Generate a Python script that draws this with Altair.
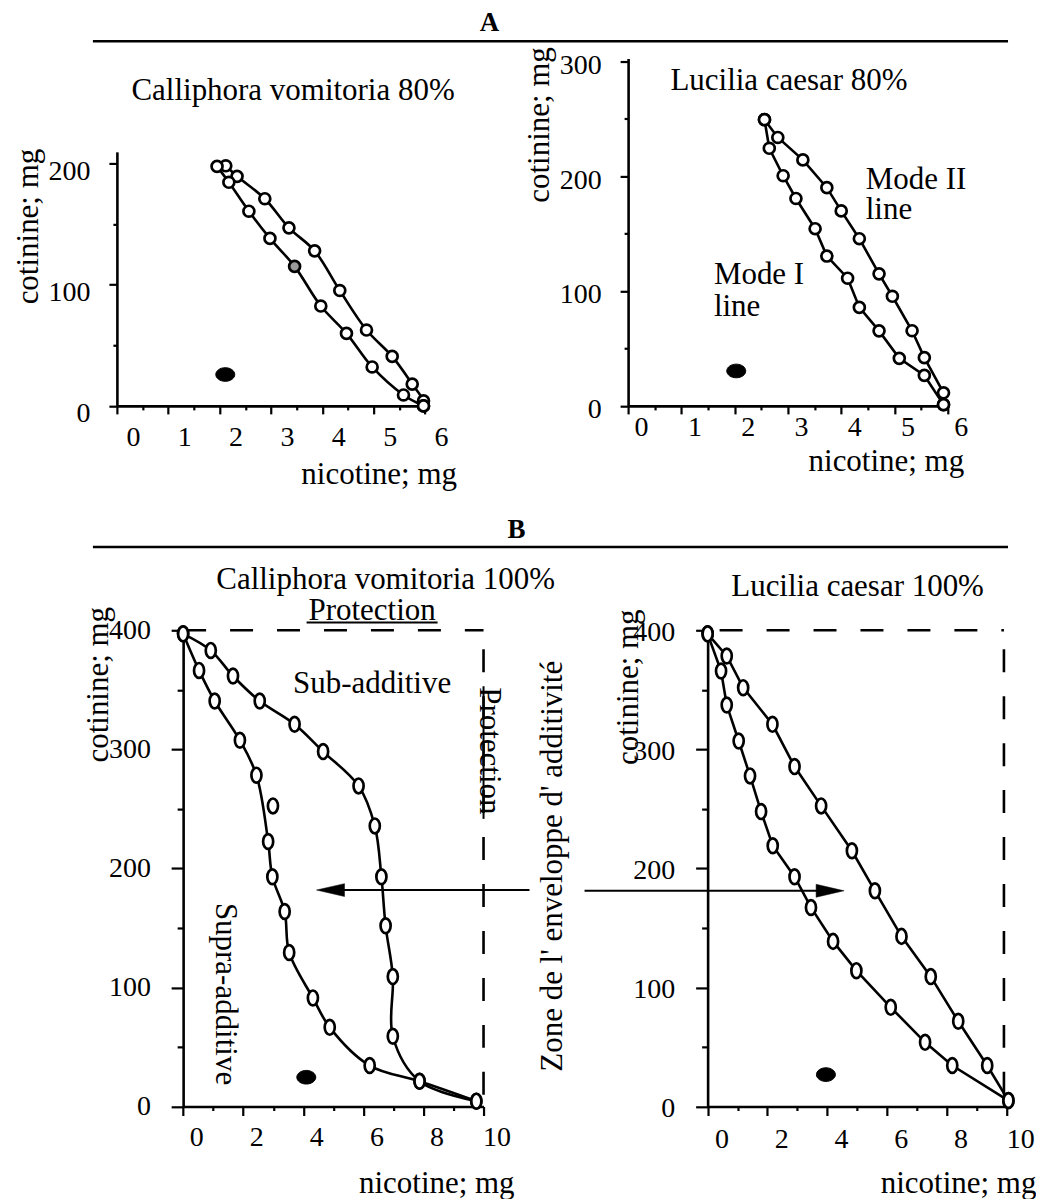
import altair as alt
import pandas as pd

FONT = "Liberation Serif"
TXT = 31      # annotation / title size
LAB = 28      # tick label size
HEAD = 27     # section letters
LW = 2.6

# ================= DATA =================
# ---- A, left: Calliphora vomitoria 80% ----
al_outer_x = [2.12, 2.34, 2.88, 3.35, 3.85, 4.34, 4.86, 5.36, 5.75, 5.97, 5.97]
al_outer_y = [198.1, 189.4, 170.9, 146.9, 127.9, 95.2, 62.6, 40.8, 18.0, 4.1, 0.0]
al_inner_x = [1.95, 2.18, 2.57, 2.98, 3.46, 3.97, 4.47, 4.97, 5.58, 5.97]
al_inner_y = [197.6, 184.5, 160.6, 138.2, 115.1, 82.4, 59.8, 32.1, 9.0, 0.0]
al_grey_idx = 4
al_dot_x, al_dot_y = [2.11], [25.9]
al_text = ["Calliphora vomitoria 80%"]
al_text_x, al_text_y = [3.43], [252.7]

# ---- A, right: Lucilia caesar 80% ----
ar_mode1_x = [2.56, 2.65, 2.91, 3.15, 3.51, 3.73, 4.12, 4.34, 4.71, 5.09, 5.56, 5.92]
ar_mode1_y = [249.1, 224.2, 200.3, 180.5, 154.2, 130.4, 111.1, 85.7, 65.3, 41.4, 26.5, 1.1]
ar_mode2_x = [2.56, 2.81, 3.28, 3.73, 4.00, 4.34, 4.71, 4.96, 5.33, 5.56, 5.92, 5.92]
ar_mode2_y = [249.1, 233.6, 214.1, 189.9, 169.7, 145.5, 114.9, 95.4, 65.4, 42.0, 11.4, 1.1]
ar_dot_x, ar_dot_y = [2.03], [30.4]
ar_title = ["Lucilia caesar 80%"]
ar_title_x, ar_title_y = [3.02], [274.5]
ar_notes = ["Mode II", "line", "Mode I", "line"]
ar_notes_x = [4.46, 4.46, 1.61, 1.61]
ar_notes_y = [188.4, 162.3, 105.8, 78.3]

# ---- B, left: Calliphora vomitoria 100% ----
bl_sub_x = [0.0, 0.92, 1.66, 2.55, 3.71, 4.66, 5.84, 6.38, 6.60, 6.74, 6.98, 6.98, 7.87, 9.76]
bl_sub_y = [397, 383.1, 361.6, 340.6, 321.1, 298.1, 269.3, 235.7, 193.0, 151.8, 109.1, 59.0, 21.2, 4.5]
bl_sup_x = [0.0, 0.53, 1.05, 1.89, 2.44, 2.99, 2.83, 2.97, 3.38, 3.53, 4.32, 4.88, 6.21, 7.87, 9.76]
bl_sup_y = [397, 366.3, 340.6, 307.6, 278.3, 252.5, 222.6, 193.0, 163.8, 129.4, 91.2, 66.5, 34.4, 21.2, 4.5]
bl_sup_off_curve = [5]
bl_dot_x, bl_dot_y = [4.10], [24.6]
bl_h_text = ["Calliphora vomitoria 100%", "Protection", "Sub-additive"]
bl_h_text_x = [6.74, 6.29, 6.29]
bl_h_text_y = [434.3, 408.3, 347.6]
bl_v_text = ["Protection", "Supra-additive"]
bl_v_text_x = [9.88, 1.11]
bl_v_text_y = [298.7, 94.5]
bl_box_h = dict(x=[0.0], x2=[10.0], y=[400.0], y2=[400.0])
bl_box_v = dict(x=[10.0], x2=[10.0], y=[400.0], y2=[0.0])
bl_underline = dict(x=[4.11, 10.0], x2=[8.47, 10.0], y=[406.5, 353.0], y2=[406.5, 241.6])
bl_arrow_line = dict(x=[4.9], x2=[11.53], y=[181.8], y2=[181.8])
bl_arrow_head_x, bl_arrow_head_y = [4.906], [181.8]

# ---- B, right: Lucilia caesar 100% ----
br_up_x = [0.0, 0.64, 1.19, 2.17, 2.91, 3.80, 4.83, 5.60, 6.49, 7.47, 8.39, 9.36, 10.07]
br_up_y = [397, 378.4, 351.8, 321.0, 285.5, 252.5, 214.8, 181.2, 142.9, 109.1, 71.6, 34.4, 5.0]
br_lo_x = [0.0, 0.45, 0.64, 1.04, 1.42, 1.79, 2.18, 2.91, 3.46, 4.20, 4.98, 6.13, 7.28, 8.19, 10.07]
br_lo_y = [397, 365.8, 337.2, 307.0, 277.7, 247.7, 219.0, 193.0, 167.2, 138.7, 114.1, 83.3, 53.9, 34.4, 5.0]
br_dot_x, br_dot_y = [3.96], [26.8]
br_title = ["Lucilia caesar 100%"]
br_title_x, br_title_y = [5.02], [428.7]
br_zone = ["Zone de l' enveloppe d' additivité"]
br_zone_x, br_zone_y = [-4.87], [201.8]
br_box_h = dict(x=[0.0], x2=[9.92], y=[400.0], y2=[400.0])
br_box_v = dict(x=[9.92], x2=[9.92], y=[400.0], y2=[0.0])
br_arrow_line = dict(x=[-4.12], x2=[4.1], y=[181.2], y2=[181.2])
br_arrow_head_x, br_arrow_head_y = [4.10], [181.2]

# ================= HELPERS =================
ELL_V = "M0,-1A0.68,1 0 1,1 0,1A0.68,1 0 1,1 0,-1Z"
ELL_H = "M-1,0A1,0.72 0 1,1 1,0A1,0.72 0 1,1 -1,0Z"
TRI_L = "M-1,0L1,-0.46L1,0.46Z"
TRI_R = "M1,0L-1,-0.46L-1,0.46Z"
ONE = pd.DataFrame({"k": [0]})


def line_df(parts):
    rows = []
    for name, xs, ys, skip in parts:
        k = 0
        for i, (x, y) in enumerate(zip(xs, ys)):
            if i in skip:
                continue
            rows.append({"x": x, "y": y, "series": name, "order": k})
            k += 1
    return pd.DataFrame(rows)


def pts_df(parts):
    rows = []
    for xs, ys, grey in parts:
        for i, (x, y) in enumerate(zip(xs, ys)):
            rows.append({"x": x, "y": y, "fill": "#9a9a9a" if i in grey else "white"})
    return pd.DataFrame(rows)


def text_df(texts, xs, ys):
    return pd.DataFrame({"text": texts, "x": xs, "y": ys})


def x_axis(values, major, tmaj, tmin, loff, lpad, tx, ty):
    return alt.Axis(
        values=values, format=".0f",
        labelExpr=f"datum.value % {major} == 0 ? datum.label : ''",
        tickSize={"condition": {"test": f"datum.value % {major} == 0", "value": tmaj}, "value": tmin},
        labelOffset=loff, labelPadding=lpad, labelFont=FONT, labelFontSize=LAB,
        labelColor="black", labelAngle=0, labelAlign="center", labelBaseline="top",
        labelFlush=False, labelOverlap=False,
        domainColor="black", domainWidth=LW, tickColor="black", tickWidth=2.2,
        title="nicotine; mg", titleFont=FONT, titleFontSize=TXT, titleFontWeight="normal",
        titleColor="black", titleX=tx, titleY=ty, titleAlign="center",
        titleBaseline="alphabetic", titleAngle=0, grid=False,
    )


def y_axis(values, tmaj, tmin, loff, lpad, tx, ty, offset=0):
    return alt.Axis(
        values=values, format=".0f",
        labelExpr="datum.value % 100 == 0 ? datum.label : ''",
        tickSize={"condition": {"test": "datum.value % 100 == 0", "value": tmaj}, "value": tmin},
        labelOffset=loff, labelPadding=lpad, labelFont=FONT, labelFontSize=LAB,
        labelColor="black", labelAlign="right", labelBaseline="middle",
        labelFlush=False, labelOverlap=False, offset=offset,
        domainColor="black", domainWidth=LW, tickColor="black", tickWidth=2.2,
        title="cotinine; mg", titleFont=FONT, titleFontSize=TXT, titleFontWeight="normal",
        titleColor="black", titleX=tx, titleY=ty, titleAlign="center",
        titleBaseline="alphabetic", titleAngle=270, grid=False,
    )


def panel(X, Y, lines, interp, pts, shape, size, dots, extra, width, height):
    layers = [
        alt.Chart(lines).mark_line(color="black", strokeWidth=LW, interpolate=interp)
        .encode(x=X, y=Y, detail="series:N", order="order:Q")
    ]
    layers += [e(X, Y) for e in extra.get("under", [])]
    layers.append(
        alt.Chart(pts).mark_point(filled=True, shape=shape, size=size, stroke="black",
                                  strokeWidth=2.7, opacity=1)
        .encode(x=X, y=Y, fill=alt.Fill("fill:N", scale=None))
    )
    layers.append(
        alt.Chart(dots).mark_point(filled=True, shape=ELL_H, size=360, fill="black",
                                   stroke="black", strokeWidth=1, opacity=1)
        .encode(x=X, y=Y)
    )
    layers += [e(X, Y) for e in extra.get("over", [])]
    layers += extra.get("fixed", [])
    return alt.layer(*layers).properties(width=width, height=height)


def rules(d, dash=None, offset=0, width=LW):
    def make(X, Y):
        kw = dict(color="black", strokeWidth=width)
        if dash:
            kw.update(strokeDash=dash, strokeDashOffset=offset)
        return alt.Chart(pd.DataFrame(d)).mark_rule(**kw).encode(x=X, x2="x2", y=Y, y2="y2")
    return make


def texts(df, align="center", angle=0):
    def make(X, Y):
        return alt.Chart(df).mark_text(font=FONT, fontSize=TXT, color="black", align=align,
                                       baseline="alphabetic", angle=angle).encode(x=X, y=Y, text="text:N")
    return make


def head(xs, ys, shape):
    def make(X, Y):
        return alt.Chart(pd.DataFrame({"x": xs, "y": ys})).mark_point(
            filled=True, shape=shape, size=784, fill="black", stroke="black", strokeWidth=0.5, opacity=1
        ).encode(x=X, y=Y)
    return make


def section(letter, lx, ly, ry):
    t = alt.Chart(ONE).mark_text(text=letter, font=FONT, fontSize=HEAD, fontWeight="bold",
                                 color="black", align="center", baseline="alphabetic").encode(
        x=alt.value(lx), y=alt.value(ly))
    r = alt.Chart(ONE).mark_rule(color="black", strokeWidth=LW).encode(
        x=alt.value(-24), x2=alt.value(892), y=alt.value(ry))
    return [t, r]


# ================= PANELS =================
W1, W2 = 367, 378.6
HA, HB = 347.7, 476.7
halves = [i * 0.5 for i in range(13)]
units = list(range(11))
fifties = list(range(0, 401, 50))


def sc(dom, rng):
    return alt.Scale(domain=dom, range=rng, nice=False, zero=False)


# A left
X = alt.X("x:Q", scale=sc([0, 6.03], [0, 310]), axis=x_axis(halves, 1, 8, 4, 16, 10, 262, 78))
Y = alt.Y("y:Q", scale=sc([0, 209.6], [HA, 93.4]),
          axis=y_axis(fifties[:5], 8, 4, 8, 19, -79.5, 167.7))
pin = alt.Chart(ONE).mark_rule(opacity=0, strokeWidth=1).encode(
    x=alt.value(-109), x2=alt.value(-104), y=alt.value(-49.3), y2=alt.value(-49.3))
a_left = panel(
    X, Y,
    line_df([("outer", al_outer_x, al_outer_y, []), ("inner", al_inner_x, al_inner_y, [])]),
    "catmull-rom",
    pts_df([(al_outer_x, al_outer_y, []), (al_inner_x, al_inner_y, [al_grey_idx])]),
    "circle", 120,
    pd.DataFrame({"x": al_dot_x, "y": al_dot_y}),
    {"over": [texts(text_df(al_text, al_text_x, al_text_y))],
     "fixed": section("A", 373, -27.3, -17.3) + [pin]},
    W1, HA,
)

# A right
X = alt.X("x:Q", scale=sc([0, 6], [0, 320]), axis=x_axis(halves, 1, 8, 4, 13, 0, 258, 65))
Y = alt.Y("y:Q", scale=sc([0, 302.3], [HA, 0]),
          axis=y_axis(fifties[:7], 8, 4, 4, 19, -79.7, 66))
a_right = panel(
    X, Y,
    line_df([("m1", ar_mode1_x, ar_mode1_y, []), ("m2", ar_mode2_x, ar_mode2_y, [])]),
    "linear",
    pts_df([(ar_mode1_x, ar_mode1_y, []), (ar_mode2_x, ar_mode2_y, [])]),
    "circle", 120,
    pd.DataFrame({"x": ar_dot_x, "y": ar_dot_y}),
    {"over": [texts(text_df(ar_title, ar_title_x, ar_title_y)),
              texts(text_df(ar_notes, ar_notes_x, ar_notes_y), align="left")]},
    W2, HA,
)

# B left
X = alt.X("x:Q", scale=sc([0, 10], [66.3, 367]), axis=x_axis(units, 2, 9, 4, 13, 8.5, 319.7, 85.7))
Y = alt.Y("y:Q", scale=sc([0, 400], [HB, 0]),
          axis=y_axis(fifties, 12, 6, 0, 20.6, -75.6, 54, offset=-66.3))
b_left = panel(
    X, Y,
    line_df([("sub", bl_sub_x, bl_sub_y, []), ("sup", bl_sup_x, bl_sup_y, bl_sup_off_curve)]),
    "catmull-rom",
    pts_df([(bl_sub_x, bl_sub_y, []), (bl_sup_x, bl_sup_y, [])]),
    ELL_V, 220,
    pd.DataFrame({"x": bl_dot_x, "y": bl_dot_y}),
    {"under": [rules(bl_box_h, dash=[23, 24], offset=0),
               rules(bl_box_v, dash=[23, 24], offset=28),
               rules(bl_underline, width=2),
               rules(bl_arrow_line, width=2)],
     "over": [head(bl_arrow_head_x, bl_arrow_head_y, TRI_L),
              texts(text_df(bl_h_text, bl_h_text_x, bl_h_text_y)),
              texts(text_df(bl_v_text, bl_v_text_x, bl_v_text_y), angle=90)],
     "fixed": section("B", 400, -92.6, -83.3)},
    W1, HB,
)

# B right
X = alt.X("x:Q", scale=sc([0, 10], [79.6, 378.6]), axis=x_axis(units, 2, 9, 4, 14, 10, 330.3, 85.7))
Y = alt.Y("y:Q", scale=sc([0, 400], [HB, 0]),
          axis=y_axis(fifties, 12, 6, 2, 21, -70.6, 56.5, offset=-79.6))
b_right = panel(
    X, Y,
    line_df([("up", br_up_x, br_up_y, []), ("lo", br_lo_x, br_lo_y, [])]),
    "linear",
    pts_df([(br_up_x, br_up_y, []), (br_lo_x, br_lo_y, [])]),
    ELL_V, 220,
    pd.DataFrame({"x": br_dot_x, "y": br_dot_y}),
    {"under": [rules(br_box_h, dash=[23, 24], offset=35),
               rules(br_box_v, dash=[23, 24], offset=28),
               rules(br_arrow_line, width=2)],
     "over": [head(br_arrow_head_x, br_arrow_head_y, TRI_R),
              texts(text_df(br_title, br_title_x, br_title_y)),
              texts(text_df(br_zone, br_zone_x, br_zone_y), angle=270)]},
    W2, HB,
)

chart = alt.concat(
    a_left, a_right, b_left, b_right,
    columns=2,
    spacing=alt.RowColnumber(row=224.3, column=144.7),
    bounds="flush",
    align="each",
).properties(
    padding=0, background="white"
).configure_view(stroke=None)

chart.save("out.html", embed_options={"renderer": "svg", "actions": False})
